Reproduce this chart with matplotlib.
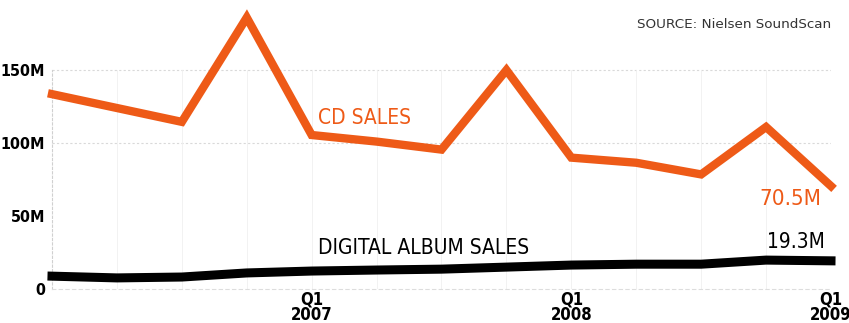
import numpy as np
import matplotlib
matplotlib.use('Agg')
import matplotlib.pyplot as plt

#-------------------------------------------------------------------
# data (millions of albums per quarter, Q1 2006 .. Q1 2009)
quarters = ['Q1\n2006', 'Q2', 'Q3', 'Q4', 'Q1\n2007', 'Q2', 'Q3', 'Q4',
            'Q1\n2008', 'Q2', 'Q3', 'Q4', 'Q1\n2009']
cd_sales = [133.5, 124, 114.5, 186, 105.5, 101, 95.5, 150, 90, 86.5, 78.5, 111, 70.5]
digital_sales = [8.8, 7.6, 8.2, 11, 12.3, 13, 13.6, 15, 16.4, 17, 17, 19.8, 19.3]
y_ticks = [0, 50, 100, 150]
y_labels = ['0', '50M', '100M', '150M']
bold_ticks = [4, 8, 12]

orange = '#EE5A17'
plt.rcParams['font.family'] = ['DejaVu Sans']
plt.rcParams['font.stretch'] = 'condensed'

#-------------------------------------------------------------------
fig = plt.figure(figsize=(8.49, 3.23), dpi=100)
ax = fig.add_axes([52 / 849, 34 / 323, 779 / 849, 289 / 323])

x = np.arange(len(quarters))
ax.plot(x, cd_sales, color=orange, lw=6, solid_joinstyle='miter', zorder=3, clip_on=False)
ax.plot(x, digital_sales, color='black', lw=6.5, zorder=3, clip_on=False)

ax.set_xlim(0, len(quarters) - 1)
ax.set_ylim(0, 198)

# faint grid like the print
for yv in [100, 150]:
    ax.axhline(yv, color='#d9d9d9', lw=0.8, ls=(0, (2, 2)), xmax=1, zorder=1)
for xv in x[1:]:
    ax.plot([xv, xv], [0, 150], color='#f0f0f0', lw=0.6, zorder=1)

for s in ['top', 'right']:
    ax.spines[s].set_visible(False)
ax.spines['left'].set_color('#d0d0d0')
ax.spines['left'].set_linestyle((0, (2, 2)))
ax.spines['left'].set_bounds(0, 150)
ax.spines['bottom'].set_color('#dddddd')
ax.spines['bottom'].set_linestyle((0, (3, 3)))

ax.set_yticks(y_ticks)
ax.set_yticklabels(y_labels, fontsize=11.5, fontweight='bold')
ax.set_xticks([x[i] for i in bold_ticks])
ax.set_xticklabels([quarters[i] for i in bold_ticks], fontsize=12, fontweight='bold', linespacing=0.8)
ax.tick_params(axis='x', length=0, pad=1)
ax.tick_params(axis='y', length=0, pad=5)

# labels
ax.text(4.1, 117, 'CD SALES', color=orange, fontsize=15, va='center', ha='left')
ax.text(4.1, 28, 'DIGITAL ALBUM SALES', color='black', fontsize=15, va='center', ha='left')
ax.text(11.85, 62, '70.5M', color=orange, fontsize=16, va='center', ha='right')
ax.text(11.9, 32, '19.3M', color='black', fontsize=15, va='center', ha='right')
fig.text(831 / 849, 1 - 25 / 323, 'SOURCE: Nielsen SoundScan', color='#333333',
         fontsize=9.7, fontstretch='normal', ha='right', va='center')

fig.savefig('out.png', dpi=100, facecolor='white')
